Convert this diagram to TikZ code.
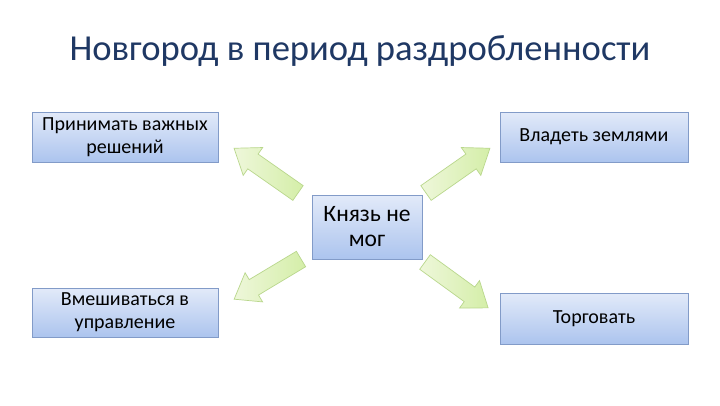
\documentclass[tikz,border=0pt]{standalone}
\usepackage{fontspec}
\setmainfont{Carlito}
\definecolor{titlec}{RGB}{31,56,100}
\definecolor{boxtop}{RGB}{226,234,249}
\definecolor{boxbot}{RGB}{172,196,238}
\definecolor{boxdraw}{RGB}{130,155,200}
\definecolor{arrA}{RGB}{238,247,218}
\definecolor{arrB}{RGB}{212,238,168}
\definecolor{arrdraw}{RGB}{185,215,140}
\tikzset{
  box/.style={draw=boxdraw, line width=0.8pt, top color=boxtop, bottom color=boxbot,
    align=center, inner sep=2pt, font=\fontsize{20}{23}\selectfont, text=black},
  blockarrow/.style={draw=arrdraw, line width=0.7pt, left color=arrA, right color=arrB, line join=miter}
}
\newcommand{\blockarr}[4]{% name, x, y, angle
  \begin{scope}[shift={(#2,#3)}, rotate=#4]
    \coordinate (#1) at (0,0);
    \path[blockarrow] (0,-9) -- (55,-9) -- (55,-17) -- (78,0) -- (55,17) -- (55,9) -- (0,9) -- cycle;
  \end{scope}}
\begin{document}
\begin{tikzpicture}[x=1pt,y=-1pt]
\useasboundingbox[fill=white] (0,0) rectangle (720,405);
\node[text=titlec, font=\fontsize{36.6}{40}\selectfont] (title) at (360,51) {Новгород в период раздробленности};
\node[box, minimum width=186pt, minimum height=50pt] (tl) at (125,137) {Принимать важных\\решений};
\node[box, minimum width=188pt, minimum height=50pt] (tr) at (594,137) {Владеть землями};
\node[box, minimum width=186pt, minimum height=49pt] (bl) at (125,312.5) {Вмешиваться в\\управление};
\node[box, minimum width=188pt, minimum height=51pt] (br) at (594,318.5) {Торговать};
\node[box, minimum width=110pt, minimum height=64pt, font=\fontsize{23.5}{25}\selectfont] (c) at (367,227) {Князь не\\мог};
\blockarr{a1}{298}{193}{145}
\blockarr{a2}{426}{193}{35}
\blockarr{a3}{301}{259}{211}
\blockarr{a4}{425}{262}{-36}
\end{tikzpicture}
\end{document}
